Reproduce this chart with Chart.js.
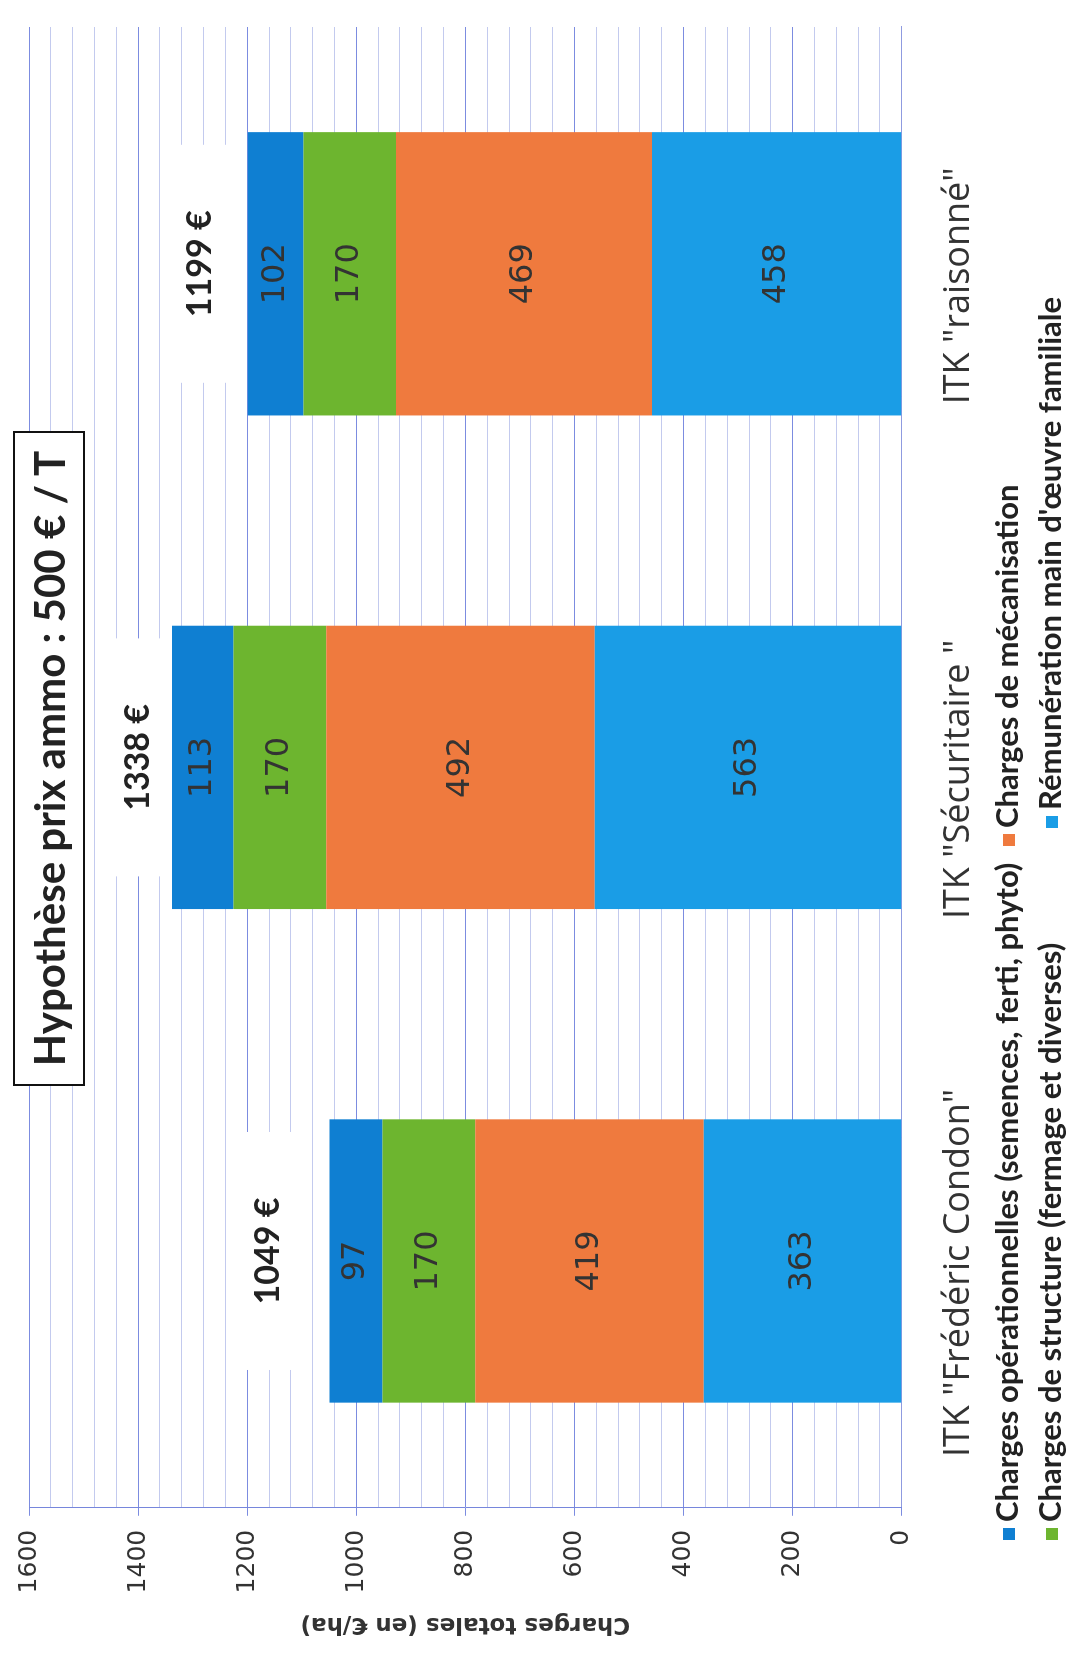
<!DOCTYPE html>
<html>
<head>
<meta charset="utf-8">
<script src="https://cdn.jsdelivr.net/npm/chart.js@4.4.0/dist/chart.umd.min.js"></script>
<style>
  body { margin: 0; background: #fff; overflow: hidden; }
  #page {
    position: absolute; left: 0; top: 0;
    width: 1670px; height: 1081px;
    transform-origin: 0 0;
    transform: translate(0, 1670px) rotate(-90deg);
    background: #fff;
  }
  #title {
    position: absolute; left: 584px; top: 13px; width: 651px; height: 68px;
    border: 2px solid #111; background: #fff;
    font: bold 42px Lato, sans-serif; color: #222;
    display: flex; align-items: center; justify-content: center;
  }
  .leg {
    position: absolute; font: bold 31px Lato, sans-serif; color: #222;
    white-space: nowrap; line-height: 32px;
  }
  .leg i {
    display: inline-block; width: 12px; height: 12px; margin-right: 6px;
    vertical-align: 3px;
  }
</style>
</head>
<body>
<div id="page">
  <canvas id="c" width="1670" height="1081"></canvas>
  <div id="title">Hypothèse prix ammo : 500 € / T</div>
  <div id="legend"></div>
</div>
<script>
const categories = ['ITK "Frédéric Condon"', 'ITK "Sécuritaire "', 'ITK "raisonné"'];

const operationnelles = [97, 113, 102];
const structure = [170, 170, 170];
const mecanisation = [419, 492, 469];
const remuneration = [363, 563, 458];

const tickValues = [0, 200, 400, 600, 800, 1000, 1200, 1400, 1600];

const seriesNames = [
    'Charges opérationnelles (semences, ferti, phyto)',
    'Charges de mécanisation',
    'Charges de structure (fermage et diverses)',
    'Rémunération main d\'œuvre familiale'
];

const colors = {
    operationnelles: '#0f7fd2',
    structure: '#6db52f',
    mecanisation: '#ef7a3e',
    remuneration: '#1a9de6'
};

// total labels were placed by hand in the original, gap above each bar (px)
const totalGap = [46, 18, 32];

// legend laid out like the Excel one: two rows, two columns
const legendItems = [
    {text: seriesNames[0], color: colors.operationnelles, left: 130, top: 990},
    {text: seriesNames[1], color: colors.mecanisation, left: 824, top: 990},
    {text: seriesNames[2], color: colors.structure, left: 130, top: 1033},
    {text: seriesNames[3], color: colors.remuneration, left: 842, top: 1033}
];
const legendEl = document.getElementById('legend');
legendItems.forEach(item => {
    const d = document.createElement('div');
    d.className = 'leg';
    d.style.left = item.left + 'px';
    d.style.top = item.top + 'px';
    d.innerHTML = '<i style="background:' + item.color + '"></i>' + item.text;
    legendEl.appendChild(d);
});

const segmentLabels = {
    id: 'segmentLabels',
    afterDatasetsDraw(chart) {
        const ctx = chart.ctx;
        ctx.save();
        ctx.font = '32px "DejaVu Sans"';
        ctx.fillStyle = '#333';
        ctx.textAlign = 'center';
        ctx.textBaseline = 'middle';
        chart.data.datasets.forEach((ds, i) => {
            chart.getDatasetMeta(i).data.forEach((bar, j) => {
                const p = bar.getProps(['x', 'y', 'base'], true);
                ctx.fillText(ds.data[j], p.x, (p.y + p.base) / 2);
            });
        });

        // totals above each bar, in white boxes
        const xs = chart.scales.x, ys = chart.scales.y;
        ctx.font = 'bold 34px Lato';
        categories.forEach((c, j) => {
            const total = chart.data.datasets.reduce((t, ds) => t + ds.data[j], 0);
            const x = xs.getPixelForValue(j) + 10;
            const cy = ys.getPixelForValue(total) - totalGap[j] - 16;
            ctx.fillStyle = '#fff';
            ctx.fillRect(x - 119, cy - 31, 238, 62);
            ctx.fillStyle = '#222';
            ctx.fillText(total + ' €', x, cy);
        });
        ctx.restore();
    }
};

new Chart(document.getElementById('c'), {
    type: 'bar',
    data: {
        labels: categories,
        datasets: [
            {label: seriesNames[3], data: remuneration, backgroundColor: colors.remuneration},
            {label: seriesNames[1], data: mecanisation, backgroundColor: colors.mecanisation},
            {label: seriesNames[2], data: structure, backgroundColor: colors.structure},
            {label: seriesNames[0], data: operationnelles, backgroundColor: colors.operationnelles}
        ]
    },
    options: {
        responsive: false,
        animation: false,
        devicePixelRatio: 1,
        layout: {padding: {left: 20, right: 27, top: -6, bottom: 66}},
        datasets: {bar: {categoryPercentage: 1, barPercentage: 0.574}},
        plugins: {legend: {display: false}, tooltip: {enabled: false}},
        scales: {
            x: {
                stacked: true,
                grid: {display: false, drawTicks: false},
                border: {display: true, color: '#8f9be0'},
                ticks: {padding: 35, labelOffset: -12, color: '#333', font: {family: '"Open Sans"', size: 36}}
            },
            y: {
                stacked: true,
                min: 0,
                max: 1600,
                border: {color: '#7686dc'},
                grid: {
                    color: c => c.tick.value % 200 === 0 ? '#7c8ce0' : '#c3caee',
                    tickColor: c => c.tick.value % 200 === 0 ? '#7c8ce0' : 'rgba(0,0,0,0)',
                    tickLength: 8
                },
                ticks: {
                    stepSize: 40,
                    autoSkip: false,
                    padding: 14,
                    color: '#333',
                    font: {family: '"DejaVu Sans"', size: 25},
                    callback: v => tickValues.includes(v) ? v : ''
                },
                title: {
                    display: true,
                    text: 'Charges totales (en €/ha)',
                    color: '#333',
                    font: {family: '"DejaVu Sans"', size: 23, weight: 'bold'},
                    padding: {top: 12, bottom: 3}
                }
            }
        }
    },
    plugins: [segmentLabels]
});
</script>
</body>
</html>
